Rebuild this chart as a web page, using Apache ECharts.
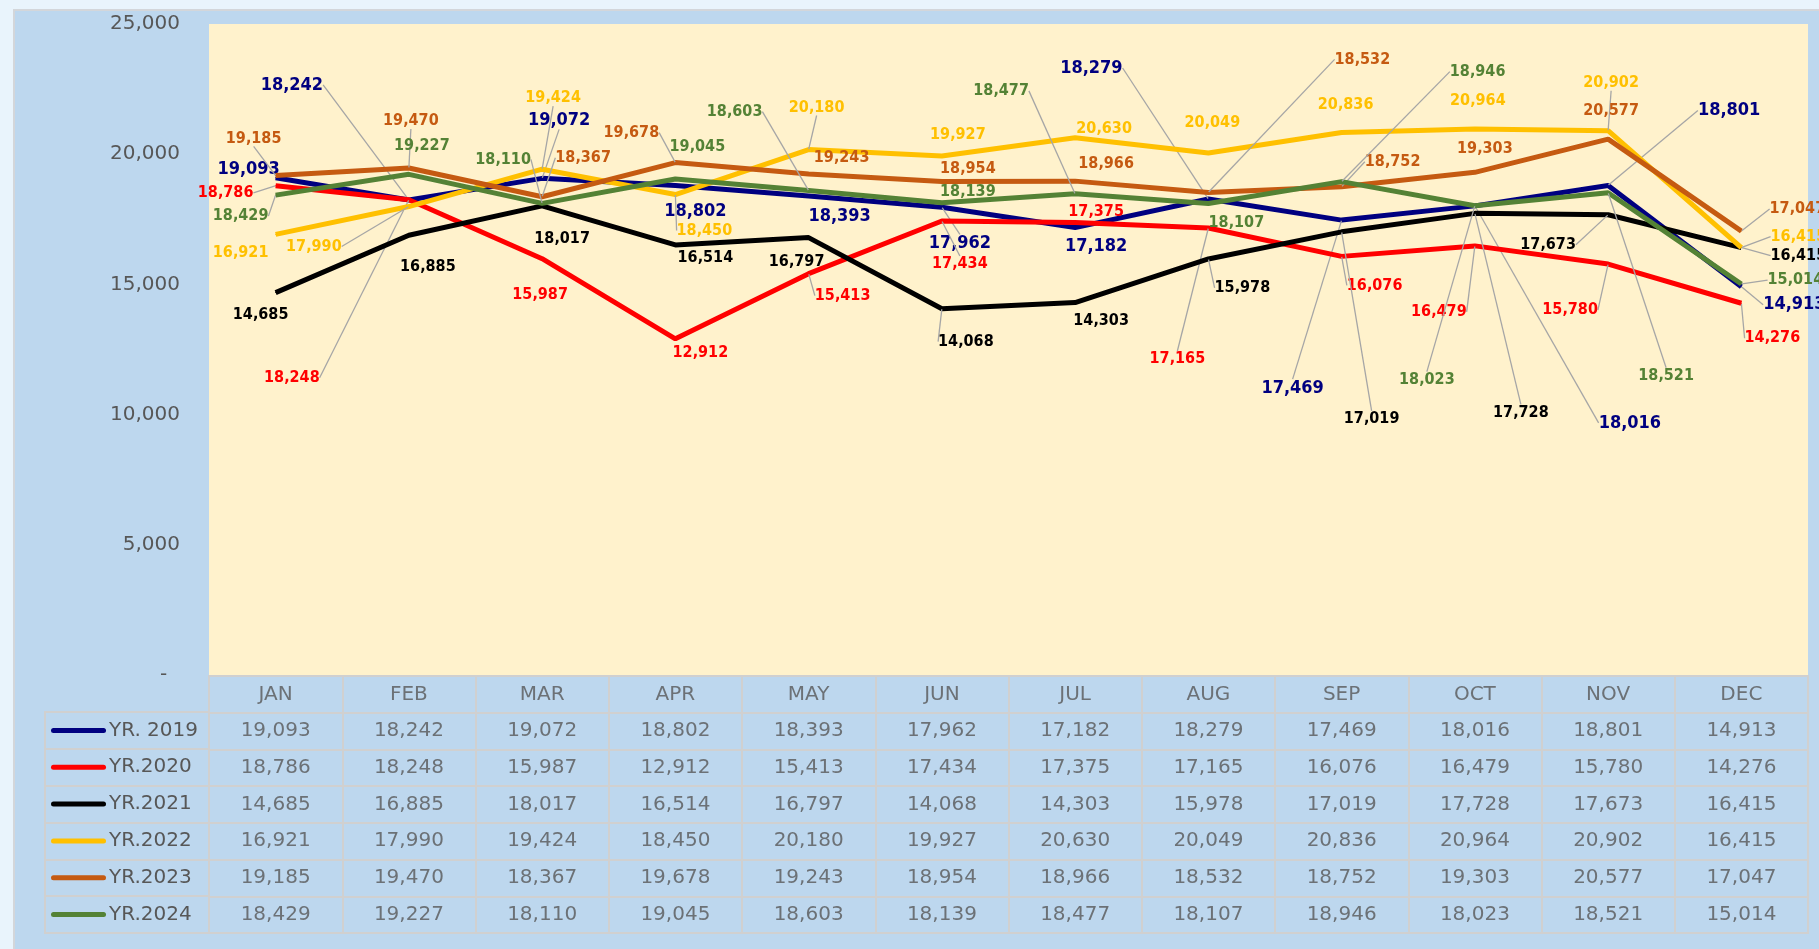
<!DOCTYPE html>
<html>
<head>
<meta charset="utf-8">
<script src="https://cdn.jsdelivr.net/npm/echarts@6/dist/echarts.min.js"></script>
<style>
  html, body { margin: 0; padding: 0; width: 1819px; height: 949px; overflow: hidden; background: #e9f4fc; }
  #panel { position: absolute; left: 13px; top: 9px; right: 0; bottom: 0; background: #bdd7ee;
           border-top: 2px solid #d3d6da; border-left: 2px solid #d3d6da; box-sizing: border-box; }
  #chart { position: absolute; left: 0; top: 0; width: 1819px; height: 949px; }
</style>
</head>
<body>
<div id="panel"></div>
<div id="chart"></div>
<script>
// ---------------- data ----------------
const MONTHS = ['JAN','FEB','MAR','APR','MAY','JUN','JUL','AUG','SEP','OCT','NOV','DEC'];
const SERIES_NAMES = ['YR. 2019','YR.2020','YR.2021','YR.2022','YR.2023','YR.2024'];
const Y2019 = [19093,18242,19072,18802,18393,17962,17182,18279,17469,18016,18801,14913];
const Y2020 = [18786,18248,15987,12912,15413,17434,17375,17165,16076,16479,15780,14276];
const Y2021 = [14685,16885,18017,16514,16797,14068,14303,15978,17019,17728,17673,16415];
const Y2022 = [16921,17990,19424,18450,20180,19927,20630,20049,20836,20964,20902,16415];
const Y2023 = [19185,19470,18367,19678,19243,18954,18966,18532,18752,19303,20577,17047];
const Y2024 = [18429,19227,18110,19045,18603,18139,18477,18107,18946,18023,18521,15014];
const Y_TICKS = [0, 5000, 10000, 15000, 20000, 25000];

// ---------------- styling / label layout ----------------
const COLORS = ['#000080','#ff0000','#000000','#ffc000','#c55a11','#548235'];
const LABEL_SIZES = [18, 16, 16, 16, 16, 16];
// label offsets (dx, dy) from each point, in pixels
const LABEL_OFFSETS = [
  [[-27,-8],[-117,-115],[17,-58],[20,26],[31,20],[18,36],[21,19],[-117,-131],[-49,168],[155,217],[121,-75],[53,18]],
  [[-50,7],[-117,178],[-2,36],[25,14],[34,22],[18,43],[21,-11],[-31,131],[33,29],[-36,66],[-38,46],[31,35]],
  [[-15,22],[19,32],[20,33],[30,13],[-12,24],[24,33],[26,18],[34,29],[30,187],[46,199],[-60,30],[57,8]],
  [[-35,18],[-95,40],[11,-71],[29,36],[8,-42],[16,-21],[29,-9],[4,-30],[4,-28],[3,-28],[3,-48],[57,-11]],
  [[-22,-37],[2,-47],[41,-39],[-44,-30],[33,-16],[26,-13],[31,-17],[154,-133],[51,-25],[10,-24],[3,-28],[56,-22]],
  [[-35,21],[13,-28],[-39,-44],[22,-32],[-74,-79],[26,-11],[-74,-103],[28,19],[136,-110],[-48,174],[58,183],[54,-4]]
];

const SERIES_VALUES = [Y2019, Y2020, Y2021, Y2022, Y2023, Y2024];
const LABEL_FONT = '"DejaVu Sans Condensed", "DejaVu Sans", sans-serif';
const TABLE_FONT = '"DejaVu Sans", sans-serif';
const GRAY = '#575757';
const BORDER = '#d0d0d0';
const fmt = v => v.toLocaleString('en-US');

const chart = echarts.init(document.getElementById('chart'), null, { renderer: 'canvas' });

const lineSeries = SERIES_VALUES.map((vals, s) => ({
  type: 'line',
  name: SERIES_NAMES[s],
  xAxisIndex: 0, yAxisIndex: 0,
  z: 2 + s,
  data: vals.map((v, i) => {
    const o = LABEL_OFFSETS[s][i];
    const far = Math.hypot(o[0], o[1]) > 40;
    return { value: v, labelLine: { show: far } };
  }),
  showSymbol: true,
  symbol: 'circle',
  symbolSize: 1,
  itemStyle: { color: COLORS[s] },
  lineStyle: { color: COLORS[s], width: 5 },
  emphasis: { disabled: true },
  animation: false,
  label: {
    show: true,
    formatter: p => fmt(p.value),
    color: COLORS[s],
    fontSize: LABEL_SIZES[s],
    fontWeight: 'bold',
    fontFamily: LABEL_FONT
  },
  labelLine: { show: true, lineStyle: { color: '#a6a6a6', width: 1.3 } },
  labelLayout: function (p) {
    const o = LABEL_OFFSETS[s][p.dataIndex];
    return {
      x: p.rect.x + p.rect.width / 2 + o[0],
      y: p.rect.y + p.rect.height / 2 + o[1],
      align: 'center',
      verticalAlign: 'middle'
    };
  }
}));

// table cells
const cellData = [];
MONTHS.forEach((m, i) => cellData.push([i, 0, m]));
SERIES_VALUES.forEach((vals, s) => vals.forEach((v, i) => cellData.push([i, s + 1, fmt(v)])));

const legendRich = { t: { fontSize: 20, color: GRAY, fontFamily: TABLE_FONT, padding: [0, 0, 0, 3] } };
COLORS.forEach((c, i) => {
  legendRich['l' + i] = { width: 55, height: 5, backgroundColor: c, borderRadius: 3 };
});

const option = {
  backgroundColor: 'transparent',
  animation: false,
  grid: [
    { left: 209, right: 11, top: 24, bottom: 274, show: true, backgroundColor: '#fff2cc', borderWidth: 0 },
    { left: 209, right: 11, top: 676, height: 257, show: true, backgroundColor: 'transparent', borderColor: BORDER, borderWidth: 2 },
    { left: 45, width: 164, top: 712, height: 221, show: true, backgroundColor: 'transparent', borderColor: BORDER, borderWidth: 2 }
  ],
  xAxis: [
    { type: 'category', gridIndex: 0, data: MONTHS, boundaryGap: true,
      axisLine: { show: false }, axisTick: { show: false }, axisLabel: { show: false }, splitLine: { show: false } },
    { type: 'category', gridIndex: 1, data: MONTHS, boundaryGap: true,
      axisLine: { show: false }, axisTick: { show: false, interval: 0 }, axisLabel: { show: false },
      splitLine: { show: true, interval: 0, lineStyle: { color: BORDER, width: 2 } } },
    { type: 'value', gridIndex: 2, show: false, min: 0, max: 1 }
  ],
  yAxis: [
    { type: 'value', gridIndex: 0, min: Y_TICKS[0], max: Y_TICKS[Y_TICKS.length - 1], interval: Y_TICKS[1] - Y_TICKS[0],
      axisLine: { show: false }, axisTick: { show: false }, splitLine: { show: false },
      axisLabel: { margin: 29, color: GRAY, fontSize: 20, fontFamily: TABLE_FONT,
        formatter: v => (v === 0 ? '-  ' : fmt(v)) } },
    { type: 'category', gridIndex: 1, data: [''].concat(SERIES_NAMES), inverse: true,
      axisLine: { show: false }, axisTick: { show: false, interval: 0 }, axisLabel: { show: false },
      splitLine: { show: true, interval: 0, lineStyle: { color: BORDER, width: 2 } } },
    { type: 'category', gridIndex: 2, data: SERIES_NAMES, inverse: true,
      axisLine: { show: false }, axisTick: { show: false, interval: 0 },
      splitLine: { show: true, interval: 0, lineStyle: { color: BORDER, width: 2 } },
      axisLabel: { inside: true, margin: 6, interval: 0,
        formatter: (v, i) => '{l' + i + '|}{t|' + v + '}', rich: legendRich } }
  ],
  series: lineSeries.concat([{
    type: 'scatter',
    xAxisIndex: 1, yAxisIndex: 1,
    data: cellData,
    symbolSize: 1,
    itemStyle: { color: 'rgba(0,0,0,0)' },
    silent: true,
    animation: false,
    label: { show: true, position: 'inside', formatter: p => p.data[2],
      color: GRAY, fontSize: 20, fontFamily: TABLE_FONT }
  }])
};

chart.setOption(option);
</script>
</body>
</html>
